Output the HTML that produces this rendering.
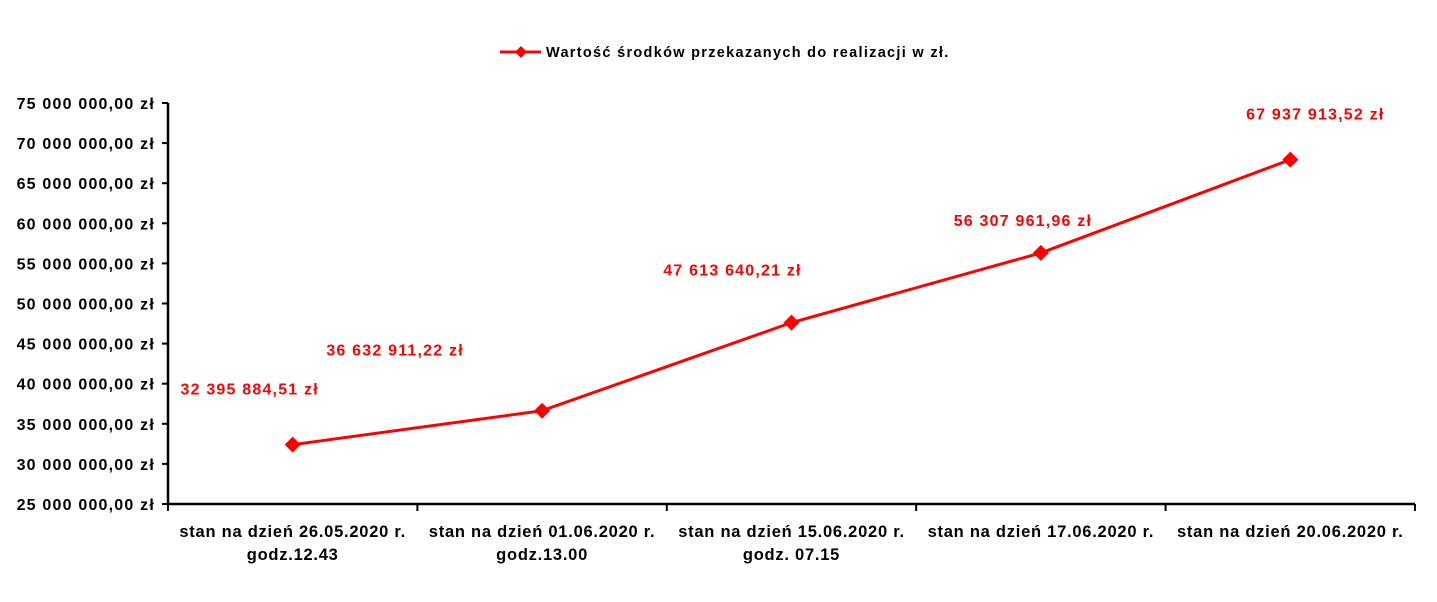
<!DOCTYPE html>
<html><head><meta charset="utf-8"><style>
body{margin:0;background:#fff;}
svg{display:block;font-family:"Liberation Sans",Arial,sans-serif;font-weight:bold;}
</style></head><body>
<svg id="c" width="1437" height="602"></svg>
<script>
const categories=[["stan na dzień 26.05.2020 r.","godz.12.43"],["stan na dzień 01.06.2020 r.","godz.13.00"],["stan na dzień 15.06.2020 r.","godz. 07.15"],["stan na dzień 17.06.2020 r."],["stan na dzień 20.06.2020 r."]];
const values=[32395884.51,36632911.22,47613640.21,56307961.96,67937913.52];
const valueLabels=["32 395 884,51 zł","36 632 911,22 zł","47 613 640,21 zł","56 307 961,96 zł","67 937 913,52 zł"];
const yTicks=[25000000,30000000,35000000,40000000,45000000,50000000,55000000,60000000,65000000,70000000,75000000];
const yTickLabels=["25 000 000,00 zł","30 000 000,00 zł","35 000 000,00 zł","40 000 000,00 zł","45 000 000,00 zł","50 000 000,00 zł","55 000 000,00 zł","60 000 000,00 zł","65 000 000,00 zł","70 000 000,00 zł","75 000 000,00 zł"];
const labelDx=[-43,-147,-59,-18,25];
const labelDy=[-50,-55,-47,-27,-40];
const NS="http://www.w3.org/2000/svg",svg=document.getElementById('c');
const X0=168,X1=1415,Y0=504,Y1=103,ymin=25000000,ymax=75000000;
const bw=(X1-X0)/categories.length;
const x=i=>X0+bw*(i+0.5), y=v=>Y0-(v-ymin)/(ymax-ymin)*(Y0-Y1);
function mk(t,a,p){const e=document.createElementNS(NS,t);for(const k in a)e.setAttribute(k,a[k]);(p||svg).appendChild(e);return e;}
// legend
const lg=mk('g',{});


mk('line',{x1:500,y1:52,x2:541,y2:52,stroke:'#f00','stroke-width':3},lg);
mk('polygon',{points:'521,46 527,52 521,58 515,52',fill:'#f00'},lg);
const lt=mk('text',{x:546,y:57,'font-size':14.5,'letter-spacing':1.3,fill:'#000'},lg);lt.textContent="Wartość środków przekazanych do realizacji w zł.";
// axes
const ax=mk('path',{d:`M${X0},${Y1}V${Y0}H${X1}`,stroke:'#000','stroke-width':2.5,fill:'none'});


yTicks.forEach((v,i)=>{
 mk('line',{x1:X0-6,x2:X0,y1:y(v),y2:y(v),stroke:'#000','stroke-width':2});
 const t=mk('text',{x:155,y:y(v)+6,'text-anchor':'end','font-size':16,'letter-spacing':1.2});t.textContent=yTickLabels[i];
 
 
});
for(let i=0;i<=categories.length;i++)mk('line',{x1:X0+bw*i,x2:X0+bw*i,y1:Y0,y2:Y0+7,stroke:'#000','stroke-width':2});
categories.forEach((c,i)=>c.forEach((s,j)=>{
 const t=mk('text',{x:x(i),y:537+j*23,'text-anchor':'middle','font-size':16.5,'letter-spacing':0.75});t.textContent=s;
 
 
}));
// series
const ln=mk('polyline',{points:values.map((v,i)=>x(i)+','+y(v)).join(' '),stroke:'#f00','stroke-width':3,fill:'none'});


values.forEach((v,i)=>{
 const px=x(i),py=y(v);
 const m=mk('polygon',{points:`${px},${py-8} ${px+8},${py} ${px},${py+8} ${px-8},${py}`,fill:'#f00'});
 
 
 const t=mk('text',{x:px+labelDx[i],y:py+labelDy[i],'text-anchor':'middle','font-size':16,'letter-spacing':1.2,fill:'#f00'});t.textContent=valueLabels[i];
 
 
});
</script>
</body></html>
